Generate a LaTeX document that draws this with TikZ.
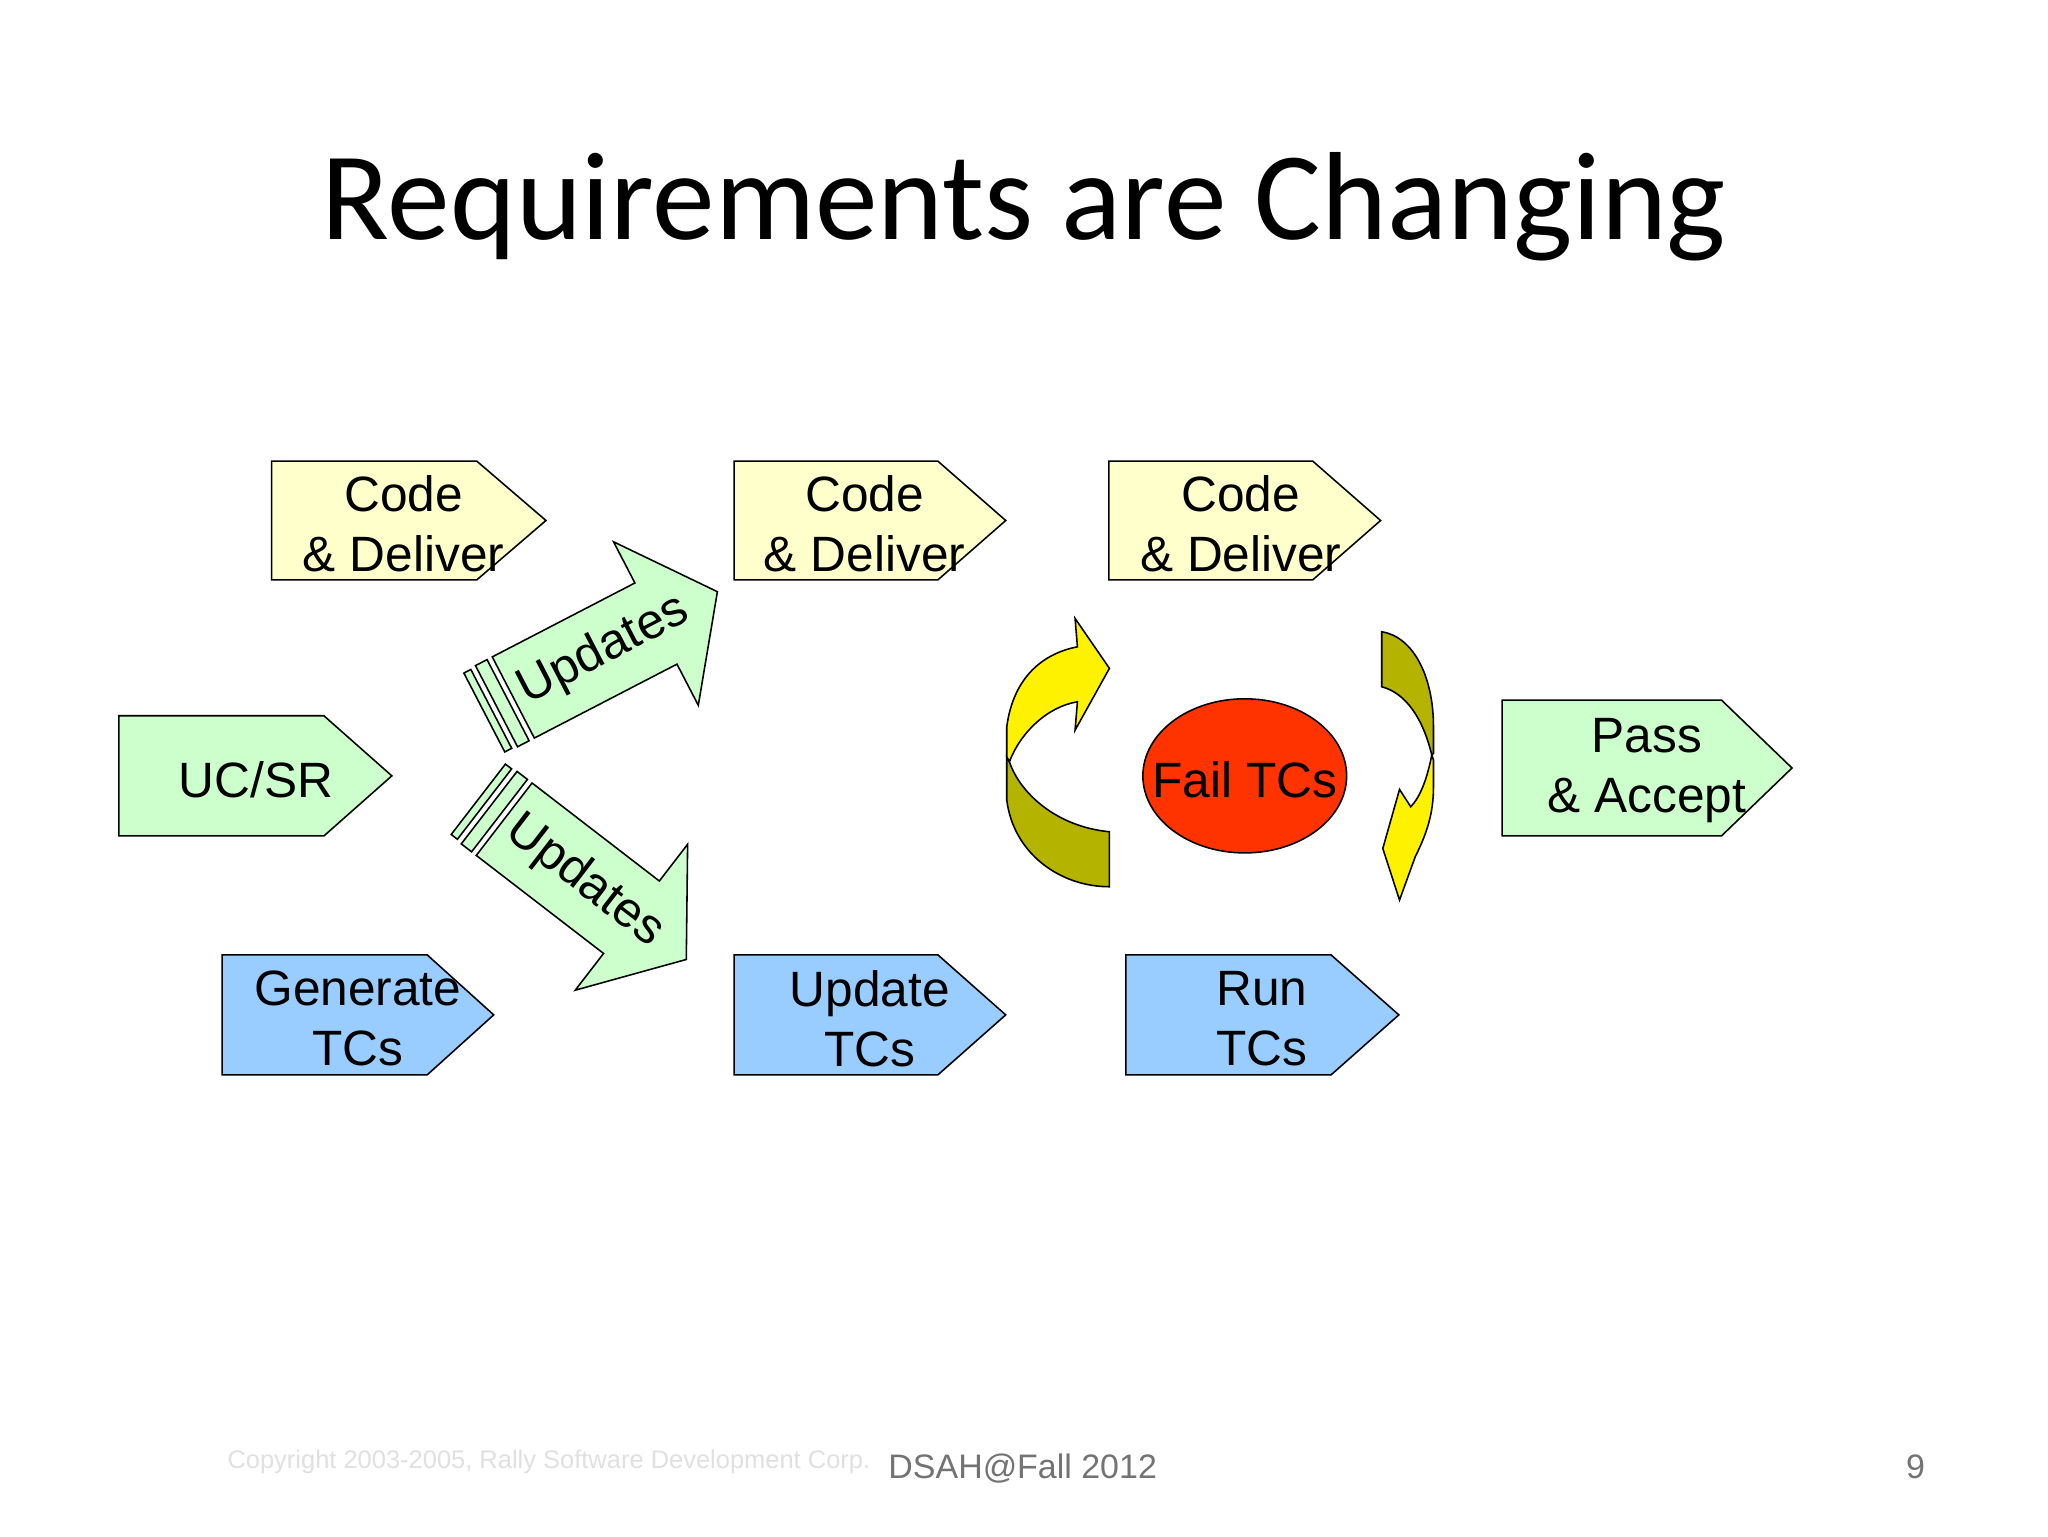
\documentclass[tikz,border=0pt]{standalone}
\usepackage{fontspec}
\usetikzlibrary{shapes.geometric}
\setmainfont{Liberation Sans}
\newfontfamily\titlefont{Carlito}
\begin{document}
\begin{tikzpicture}[x=1pt,y=1pt,
  shp/.style={draw=black,line width=1.2pt,line join=miter},
  lbl/.style={font=\fontsize{38}{46}\selectfont,align=center,inner sep=0pt}]
\useasboundingbox[fill=white] (0,0) rectangle (1568,-1176);
\definecolor{boxyel}{RGB}{255,255,204}
\definecolor{boxgrn}{RGB}{204,255,204}
\definecolor{boxblu}{RGB}{153,204,255}
\definecolor{olive}{RGB}{179,179,0}
\definecolor{failred}{RGB}{255,51,0}
\tikzset{yel/.style={shp,fill=boxyel},grn/.style={shp,fill=boxgrn},blu/.style={shp,fill=boxblu}}
% title
\node[font=\titlefont\fontsize{96}{110}\selectfont,anchor=base] (title) at (784,-183) {Requirements are Changing};
% pentagons
\draw[yel] (208,-353) -- (365,-353) -- (418,-398.5) -- (365,-444) -- (208,-444) -- cycle;
\node[lbl] (cd1) at (309,-401) {Code\\\& Deliver};
\draw[yel] (562,-353) -- (718,-353) -- (770,-398.5) -- (718,-444) -- (562,-444) -- cycle;
\node[lbl] (cd2) at (662,-401) {Code\\\& Deliver};
\draw[yel] (849,-353) -- (1005,-353) -- (1057,-398.5) -- (1005,-444) -- (849,-444) -- cycle;
\node[lbl] (cd3) at (950,-401) {Code\\\& Deliver};
\draw[grn] (91,-548) -- (248,-548) -- (300,-594) -- (248,-640) -- (91,-640) -- cycle;
\node[lbl] (uc) at (196,-597) {UC/SR};
\draw[grn] (1150,-536) -- (1318,-536) -- (1372,-588) -- (1318,-640) -- (1150,-640) -- cycle;
\node[lbl] (pass) at (1261,-590) {Pass\\\& Accept};
\draw[blu] (170,-731) -- (327,-731) -- (378,-777) -- (327,-823) -- (170,-823) -- cycle;
\node[lbl] (gen) at (274,-780) {Generate\\TCs};
\draw[blu] (562,-731) -- (718,-731) -- (770,-777) -- (718,-823) -- (562,-823) -- cycle;
\node[lbl] (upd) at (666,-780) {Update\\TCs};
\draw[blu] (862,-731) -- (1019,-731) -- (1071,-777) -- (1019,-823) -- (862,-823) -- cycle;
\node[lbl] (run) at (966,-780) {Run\\TCs};
% Updates arrows
\begin{scope}[shift={(393,-534)},rotate=27.4]
  \draw[grn] (0,35) -- (123,35) -- (123,70.5) -- (176,0) -- (123,-70.5) -- (123,-35) -- (0,-35) -- cycle;
  \draw[grn] (-14.5,35) rectangle (-4.5,-35);
  \draw[grn] (-25,34) rectangle (-19,-34);
  \node[lbl,rotate=27.4] (up1) at (78,0) {Updates};
\end{scope}
\begin{scope}[shift={(386,-627.2)},rotate=-37.6]
  \draw[grn] (0,35) -- (123,35) -- (123,70.5) -- (176,0) -- (123,-70.5) -- (123,-35) -- (0,-35) -- cycle;
  \draw[grn] (-14.5,35) rectangle (-4.5,-35);
  \draw[grn] (-25,34) rectangle (-19,-34);
  \node[lbl,rotate=-37.6] (up2) at (78,0) {Updates};
\end{scope}
% left curved arrow
\draw[shp,fill=olive] (849.4,-636.8) .. controls (809.1,-633) and (781,-607.5) .. (772.8,-583.2) -- (770.8,-579.4) -- (770.8,-612.6) .. controls (775.9,-653.4) and (811.6,-678.9) .. (849.4,-678.9) -- cycle;
\draw[shp,fill=yellow] (770.8,-579.4) -- (770.8,-556.4) .. controls (775.9,-518.1) and (798.9,-500.2) .. (824.9,-495.2) -- (823.1,-473.5) -- (849.4,-511.7) -- (823.1,-559) -- (824.9,-537.3) .. controls (801.4,-541.1) and (781,-561.5) .. (772.8,-583.2) -- cycle;
% right curved arrow
\draw[shp,fill=olive] (1057.9,-483.7) .. controls (1082.2,-487.5) and (1097.5,-518.1) .. (1097.5,-556.4) -- (1097.5,-576.8) -- (1096.2,-578.1) .. controls (1089.8,-551.3) and (1077.1,-530.9) .. (1057.9,-525.8) -- cycle;
\draw[shp,fill=yellow] (1096.2,-578.1) .. controls (1092.4,-597.2) and (1087.3,-610) .. (1080.1,-617.7) -- (1071.5,-604.4) -- (1058.7,-649.6) -- (1071.5,-689.1) -- (1083.5,-656) .. controls (1092.4,-638.1) and (1097.5,-622.8) .. (1097.5,-602.4) -- (1097.5,-581.9) -- cycle;
% ellipse
\draw[shp,fill=failred] (953,-594) ellipse [x radius=78, y radius=59];
\node[font=\fontsize{38}{46}\selectfont,inner sep=0pt] (fail) at (953,-597) {Fail TCs};
% footer
\begin{scope}
  \clip (150,-1090) rectangle (678,-1140);
  \node[anchor=base west,text=black!12,font=\fontsize{19.5}{23}\selectfont,inner sep=0pt] (copy) at (174,-1124) {Copyright 2003-2005, Rally Software Development Corp.};
\end{scope}
\node[anchor=base west,text=black!55,font=\fontsize{26}{30}\selectfont,inner sep=0pt] (dsah) at (680,-1132) {DSAH@Fall 2012};
\node[anchor=base east,text=black!55,font=\fontsize{26}{30}\selectfont,inner sep=0pt] (pg) at (1474,-1132) {9};
\end{tikzpicture}
\end{document}
